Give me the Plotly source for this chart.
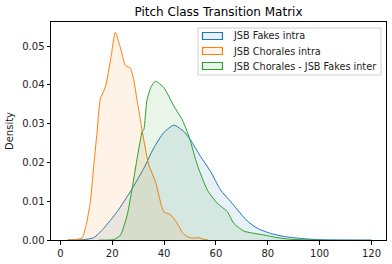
import plotly.graph_objects as go

title = "Pitch Class Transition Matrix"
names = ["JSB Fakes intra", "JSB Chorales intra", "JSB Chorales - JSB Fakes inter"]
colors = ["#1f77b4", "#ff7f0e", "#2ca02c"]
fills = ["rgba(31,119,180,0.1)", "rgba(255,127,14,0.1)", "rgba(44,160,44,0.1)"]

fakes_x = [3, 9, 12.9, 16.7, 21.9, 27, 32.2, 36, 39.9, 43.8, 47.6, 50.2, 54.1, 57.9, 61.8, 65.7,
           68.3, 72.1, 76, 81.1, 86.3, 92.7, 99.1, 108, 120]
fakes_y = [0, 0.0001, 0.0006, 0.003, 0.0073, 0.0125, 0.0185, 0.0237, 0.0277, 0.0296, 0.028, 0.0258,
           0.0215, 0.0177, 0.0129, 0.0099, 0.0078, 0.0049, 0.003, 0.0017, 0.0009, 0.0004, 0.0001, 0.00002, 0]

chorales_x = [2.6, 6, 8.4, 10, 11.6, 13, 14.2, 15.4, 17.4, 19.5, 21.2, 23, 25.1, 27, 28.3, 29.6, 30.9,
              31.6, 34.1, 36.7, 39.9, 42.5, 45.1, 47, 48.9, 51, 53.4, 55, 57]
chorales_y = [0, 0.0001, 0.0006, 0.004, 0.01, 0.02, 0.028, 0.0363, 0.0395, 0.047, 0.0535, 0.05, 0.045,
              0.0443, 0.0414, 0.036, 0.031, 0.028, 0.0194, 0.015, 0.0073, 0.0065, 0.0043, 0.002, 0.0009,
              0.0005, 0.0006, 0.0002, 0]

inter_x = [15, 20.6, 23.2, 25.8, 27.7, 29.6, 31.6, 32.2, 33.4, 35, 36.7, 39.9, 43.8, 47, 48.9, 50.2,
           52.8, 56.7, 60.5, 64.4, 66.9, 70.8, 74, 78.5, 83.7, 88.8, 95, 100]
inter_y = [0, 0.0001, 0.0013, 0.0065, 0.0133, 0.021, 0.028, 0.0285, 0.036, 0.0395, 0.0409, 0.0393,
           0.0345, 0.031, 0.028, 0.0254, 0.0194, 0.0129, 0.0095, 0.0073, 0.0043, 0.0023, 0.0018,
           0.0013, 0.0006, 0.0002, 0.00003, 0]

series = [(fakes_x, fakes_y), (chorales_x, chorales_y), (inter_x, inter_y)]

W, H = 392, 264
ML, MR, MT, MB = 51, 6, 22, 24
PW, PH = W - ML - MR, H - MT - MB


def px(x):
    return (x - ML) / PW


def py(y):
    return (H - MB - y) / PH


fig = go.Figure()
for (xs, ys), name, c, fc in zip(series, names, colors, fills):
    fig.add_trace(go.Scatter(
        x=xs, y=ys, name=name, mode="lines", showlegend=False,
        line=dict(color=c, width=1, shape="spline", smoothing=0.6),
        fill="tozeroy", fillcolor=fc,
    ))

# legend drawn as a matplotlib-style box
shapes = [dict(type="rect", xref="paper", yref="paper", x0=px(198), x1=px(381), y0=py(75), y1=py(28),
               line=dict(color="#d0d0d0", width=1), fillcolor="rgba(255,255,255,0.8)", layer="above")]
annotations = []
row_y = [36, 51, 66]
for name, c, fc, ry in zip(names, colors, fills, row_y):
    shapes.append(dict(type="rect", xref="paper", yref="paper", x0=px(202.5), x1=px(222.5),
                       y0=py(ry + 3.5), y1=py(ry - 3.5), line=dict(color=c, width=1.2),
                       fillcolor=fc, layer="above"))
    annotations.append(dict(text=name, xref="paper", yref="paper", x=px(230.5), y=py(ry),
                            xanchor="left", yanchor="middle", showarrow=False,
                            font=dict(size=9.7, color="#222222")))

font = "DejaVu Sans, sans-serif"
fig.update_layout(
    width=W, height=H,
    margin=dict(l=ML, r=MR, t=MT, b=MB, autoexpand=False),
    plot_bgcolor="white", paper_bgcolor="white",
    font=dict(family=font, size=10, color="#222222"),
    title=dict(text=title, x=(ML + W - MR) / 2 / W, xanchor="center",
               y=1 - 12 / H, yanchor="middle", font=dict(size=12, color="black")),
    showlegend=False,
    shapes=shapes, annotations=annotations,
)
fig.update_xaxes(range=[-3.6, 125.6], tickvals=[0, 20, 40, 60, 80, 100, 120], automargin=False,
                 showgrid=False, zeroline=False, showline=True, linecolor="black", linewidth=1,
                 mirror=True, ticks="outside", ticklen=3.5, tickcolor="black",
                 tickfont=dict(size=10))
fig.update_yaxes(range=[0, 0.0562], tickvals=[0, 0.01, 0.02, 0.03, 0.04, 0.05], automargin=False,
                 tickformat=".2f", showgrid=False, zeroline=False, showline=True, linecolor="black",
                 linewidth=1, mirror=True, ticks="outside", ticklen=3.5, tickcolor="black",
                 tickfont=dict(size=10),
                 title=dict(text="Density", standoff=6, font=dict(size=10, color="#222222")))
fig.write_html("out.html", config={"displayModeBar": False},
               post_script="document.body.style.margin='0px';")
